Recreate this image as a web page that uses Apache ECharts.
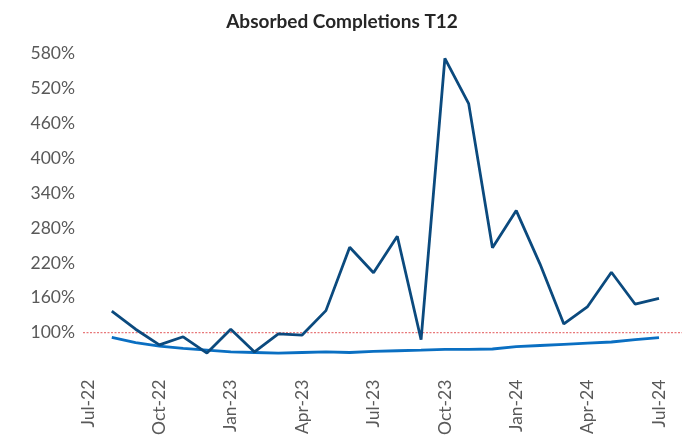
<!DOCTYPE html>
<html>
<head>
<meta charset="utf-8">
<script src="https://cdn.jsdelivr.net/npm/echarts@6/dist/echarts.min.js"></script>
<style>html,body{margin:0;padding:0;background:#fff}#c{width:684px;height:439px}</style>
</head>
<body>
<div id="c"></div>
<script>
const months = ['Jul-22','Aug-22','Sep-22','Oct-22','Nov-22','Dec-22','Jan-23','Feb-23','Mar-23','Apr-23','May-23','Jun-23','Jul-23','Aug-23','Sep-23','Oct-23','Nov-23','Dec-23','Jan-24','Feb-24','Mar-24','Apr-24','May-24','Jun-24','Jul-24'];
const absorbedMonthly = [null,137,106,79,93,65,106,67,98,96,138,247,203,266,88,572,494,246,310,218,115,145,204,149,159];
const absorbedT12 = [null,92,83,77,73,70,67,66,65,66,67,66,68,69,70,71.5,71.5,72,76,78,80,82,84,88,91.5];
const refLine = [100,100];
const yTicks = [100,160,220,280,340,400,460,520,580];

const chart = echarts.init(document.getElementById('c'), null, {renderer:'canvas'});
const FONT = 'Lato';
chart.setOption({
  animation:false,
  title:{text:'Absorbed Completions T12',left:'center',top:7,
    textStyle:{fontFamily:FONT,fontWeight:'bold',fontSize:19,color:'#262626'}},
  grid:[
    {left:88,right:25,top:42,bottom:71.4},
    {left:83,right:2,top:42,bottom:71.4}
  ],
  xAxis:[
    {type:'category',gridIndex:0,data:months,boundaryGap:false,
     axisLine:{show:false},axisTick:{show:false},splitLine:{show:false},
     axisLabel:{interval:2,rotate:90,margin:12,color:'#595959',fontFamily:FONT,fontSize:17.5}},
    {type:'value',gridIndex:1,min:0,max:1,show:false}
  ],
  yAxis:[
    {type:'value',gridIndex:0,min:40,max:600,interval:60,
     axisLine:{show:false},axisTick:{show:false},splitLine:{show:false},
     axisLabel:{margin:13,color:'#595959',fontFamily:FONT,fontSize:17.5,
       formatter:v=>yTicks.includes(v)?v+'%':''}},
    {type:'value',gridIndex:1,min:40,max:600,show:false}
  ],
  series:[
    {type:'line',xAxisIndex:1,yAxisIndex:1,data:refLine.map((v,i)=>[i,v]),symbol:'none',silent:true,
     lineStyle:{color:'#E8787A',width:1.2,type:[2,1.5]},z:1},
    {type:'line',xAxisIndex:0,yAxisIndex:0,data:absorbedT12,symbol:'none',
     lineStyle:{color:'#0A6FC2',width:2.8},z:2},
    {type:'line',xAxisIndex:0,yAxisIndex:0,data:absorbedMonthly,symbol:'none',
     lineStyle:{color:'#0B4A7E',width:2.8},z:3}
  ]
});
</script>
</body>
</html>
